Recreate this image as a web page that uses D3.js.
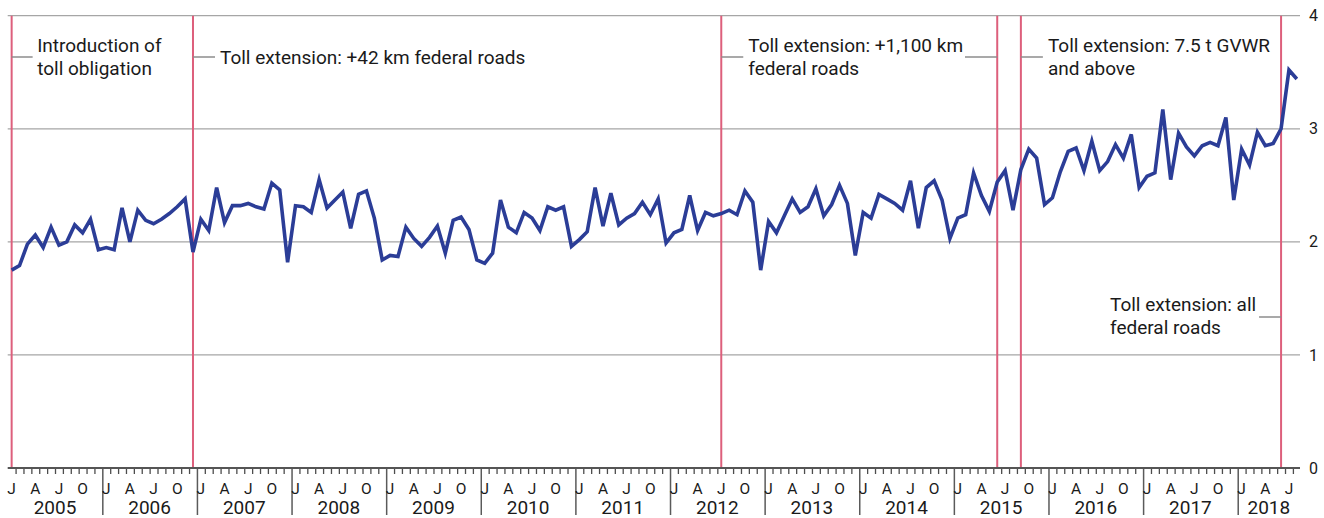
<!DOCTYPE html>
<html>
<head>
<meta charset="utf-8">
<script src="https://cdn.jsdelivr.net/npm/d3@7"></script>
<style>
  body { margin: 0; background: #fff; }
  svg { display: block; font-family: Roboto, sans-serif; }
</style>
</head>
<body>
<script>
// monthly values, Jan 2005 .. Aug 2018
const years = [2005, 2006, 2007, 2008, 2009, 2010, 2011, 2012, 2013, 2014, 2015, 2016, 2017, 2018];
const monthLetters = ['J', '', '', 'A', '', '', 'J', '', '', 'O', '', ''];
const yTicks = [0, 1, 2, 3, 4];

const v2005 = [1.75, 1.79, 1.98, 2.06, 1.95, 2.13, 1.97, 2.00, 2.15, 2.08, 2.20, 1.93];
const v2006 = [1.95, 1.93, 2.30, 2.00, 2.28, 2.19, 2.16, 2.20, 2.25, 2.31, 2.38, 1.91];
const v2007 = [2.20, 2.10, 2.48, 2.17, 2.32, 2.32, 2.34, 2.31, 2.29, 2.52, 2.46, 1.82];
const v2008 = [2.32, 2.31, 2.26, 2.55, 2.30, 2.37, 2.44, 2.12, 2.42, 2.45, 2.21, 1.84];
const v2009 = [1.88, 1.87, 2.13, 2.03, 1.96, 2.04, 2.14, 1.90, 2.19, 2.22, 2.11, 1.84];
const v2010 = [1.81, 1.90, 2.37, 2.13, 2.08, 2.26, 2.21, 2.10, 2.31, 2.28, 2.31, 1.96];
const v2011 = [2.02, 2.09, 2.48, 2.14, 2.43, 2.15, 2.21, 2.25, 2.35, 2.24, 2.38, 1.99];
const v2012 = [2.08, 2.11, 2.41, 2.10, 2.26, 2.23, 2.25, 2.28, 2.24, 2.45, 2.35, 1.75];
const v2013 = [2.18, 2.08, 2.23, 2.38, 2.26, 2.31, 2.47, 2.23, 2.33, 2.50, 2.34, 1.88];
const v2014 = [2.26, 2.21, 2.42, 2.38, 2.34, 2.28, 2.54, 2.12, 2.48, 2.54, 2.37, 2.03];
const v2015 = [2.21, 2.24, 2.61, 2.41, 2.27, 2.53, 2.63, 2.28, 2.64, 2.82, 2.74, 2.33];
const v2016 = [2.39, 2.62, 2.80, 2.83, 2.63, 2.89, 2.63, 2.71, 2.86, 2.74, 2.95, 2.48];
const v2017 = [2.58, 2.61, 3.17, 2.55, 2.96, 2.84, 2.76, 2.85, 2.88, 2.85, 3.10, 2.37];
const v2018 = [2.82, 2.68, 2.97, 2.85, 2.87, 3.00, 3.52, 3.44];

const values = [].concat(v2005, v2006, v2007, v2008, v2009, v2010, v2011,
  v2012, v2013, v2014, v2015, v2016, v2017, v2018);

// month index (0 = Jan 2005) of each marker line
const eventMonths = [0, 23, 90, 125, 128, 161];

const width = 1324;
const height = 518;
const nMonths = 163; // Jan 2005 .. Jul 2018 on the axis

const svg = d3.select('body').append('svg')
  .attr('width', width)
  .attr('height', height);

const x = d3.scaleLinear().domain([0, 163.9]).range([7.7, 1300]);
const y = d3.scaleLinear().domain([0, 4]).range([468, 15.7]);

// gridlines
svg.append('g')
  .selectAll('line')
  .data(yTicks.filter((d) => d > 0))
  .join('line')
  .attr('x1', x(0))
  .attr('x2', x(163.9))
  .attr('y1', (d) => y(d))
  .attr('y2', (d) => y(d))
  .attr('stroke', '#a6a6a6')
  .attr('stroke-width', 1.2);

// right axis labels
const yAxis = svg.append('g')
  .attr('transform', 'translate(1303,0)')
  .call(d3.axisRight(y).tickValues(yTicks).tickSize(0).tickPadding(6).tickFormat(d3.format('d')));
yAxis.select('.domain').remove();
yAxis.selectAll('text').attr('font-size', 16).attr('fill', '#1a1a1a').attr('font-family', 'Roboto, sans-serif');

// event marker lines
svg.append('g')
  .selectAll('line')
  .data(eventMonths)
  .join('line')
  .attr('x1', (d) => Math.max(x(d + 0.5), x(0) + 1.6))
  .attr('x2', (d) => Math.max(x(d + 0.5), x(0) + 1.6))
  .attr('y1', y(4))
  .attr('y2', y(0))
  .attr('stroke', '#dd5f7c')
  .attr('stroke-width', 2);

// annotations
const ex = (i) => Math.max(x(eventMonths[i] + 0.5), x(0) + 1.6);
const annot = svg.append('g')
  .attr('font-size', 19)
  .attr('fill', '#1a1a1a');
const leader = (x1, x2, yy) => annot.append('line')
  .attr('x1', x1).attr('x2', x2).attr('y1', yy).attr('y2', yy)
  .attr('stroke', '#8c8c8c').attr('stroke-width', 1.5);
const label = (xx, yy, lines) => {
  const t = annot.append('text').attr('x', xx).attr('y', yy);
  lines.forEach((l, i) => t.append('tspan').attr('x', xx).attr('dy', i === 0 ? 0 : 23).text(l));
};

leader(ex(0), ex(0) + 21, 57);
label(ex(0) + 25.5, 51.5, ['Introduction of', 'toll obligation']);

leader(ex(1), ex(1) + 22, 57);
label(ex(1) + 27, 63.5, ['Toll extension: +42 km federal roads']);

leader(ex(2), ex(2) + 22, 57);
leader(965, ex(3), 57);
label(ex(2) + 27, 51.5, ['Toll extension: +1,100 km', 'federal roads']);

leader(ex(4), ex(4) + 22, 57);
label(ex(4) + 27, 51.5, ['Toll extension: 7.5 t GVWR', 'and above']);

leader(ex(5) - 22, ex(5), 317);
label(1110, 310.5, ['Toll extension: all', 'federal roads']);

// data line
svg.append('path')
  .datum(values)
  .attr('fill', 'none')
  .attr('stroke', '#2b3d97')
  .attr('stroke-width', 3.6)
  .attr('stroke-linejoin', 'miter')
  .attr('d', d3.line().x((d, i) => x(i + 0.5)).y((d) => y(d)));

// bottom axis: month ticks
const monthBounds = d3.range(1, nMonths + 1).filter((k) => k % 12 !== 0);
svg.append('g')
  .attr('transform', `translate(0,${y(0)})`)
  .call(d3.axisBottom(x).tickValues(monthBounds).tickSize(6).tickFormat(''))
  .call((g) => g.select('.domain').remove())
  .selectAll('line')
  .attr('stroke', '#4d4d4d')
  .attr('stroke-width', 1.3);

// year separators
svg.append('g')
  .attr('transform', `translate(0,${y(0)})`)
  .call(d3.axisBottom(x).tickValues(d3.range(12, nMonths, 12)).tickSize(47).tickFormat(''))
  .call((g) => g.select('.domain').remove())
  .selectAll('line')
  .attr('stroke', '#5a5a5a')
  .attr('stroke-width', 1.5);

// baseline
svg.append('line')
  .attr('x1', x(0))
  .attr('x2', x(163.9))
  .attr('y1', y(0))
  .attr('y2', y(0))
  .attr('stroke', '#555')
  .attr('stroke-width', 2);

// month letters
const letterData = d3.range(0, nMonths).filter((i) => monthLetters[i % 12] !== '');
svg.append('g')
  .selectAll('text')
  .data(letterData)
  .join('text')
  .attr('x', (i) => x(i + 0.5))
  .attr('y', 494)
  .attr('text-anchor', 'middle')
  .attr('font-size', 15.5)
  .attr('fill', '#1a1a1a')
  .text((i) => monthLetters[i % 12]);

// year labels
svg.append('g')
  .selectAll('text')
  .data(years)
  .join('text')
  .attr('x', (d, i) => (x(i * 12) + Math.min(x(i * 12 + 12), x(163.9))) / 2)
  .attr('y', 514)
  .attr('text-anchor', 'middle')
  .attr('font-size', 19)
  .attr('font-weight', 400)
  .attr('fill', '#1a1a1a')
  .text((d) => d);
</script>
</body>
</html>
